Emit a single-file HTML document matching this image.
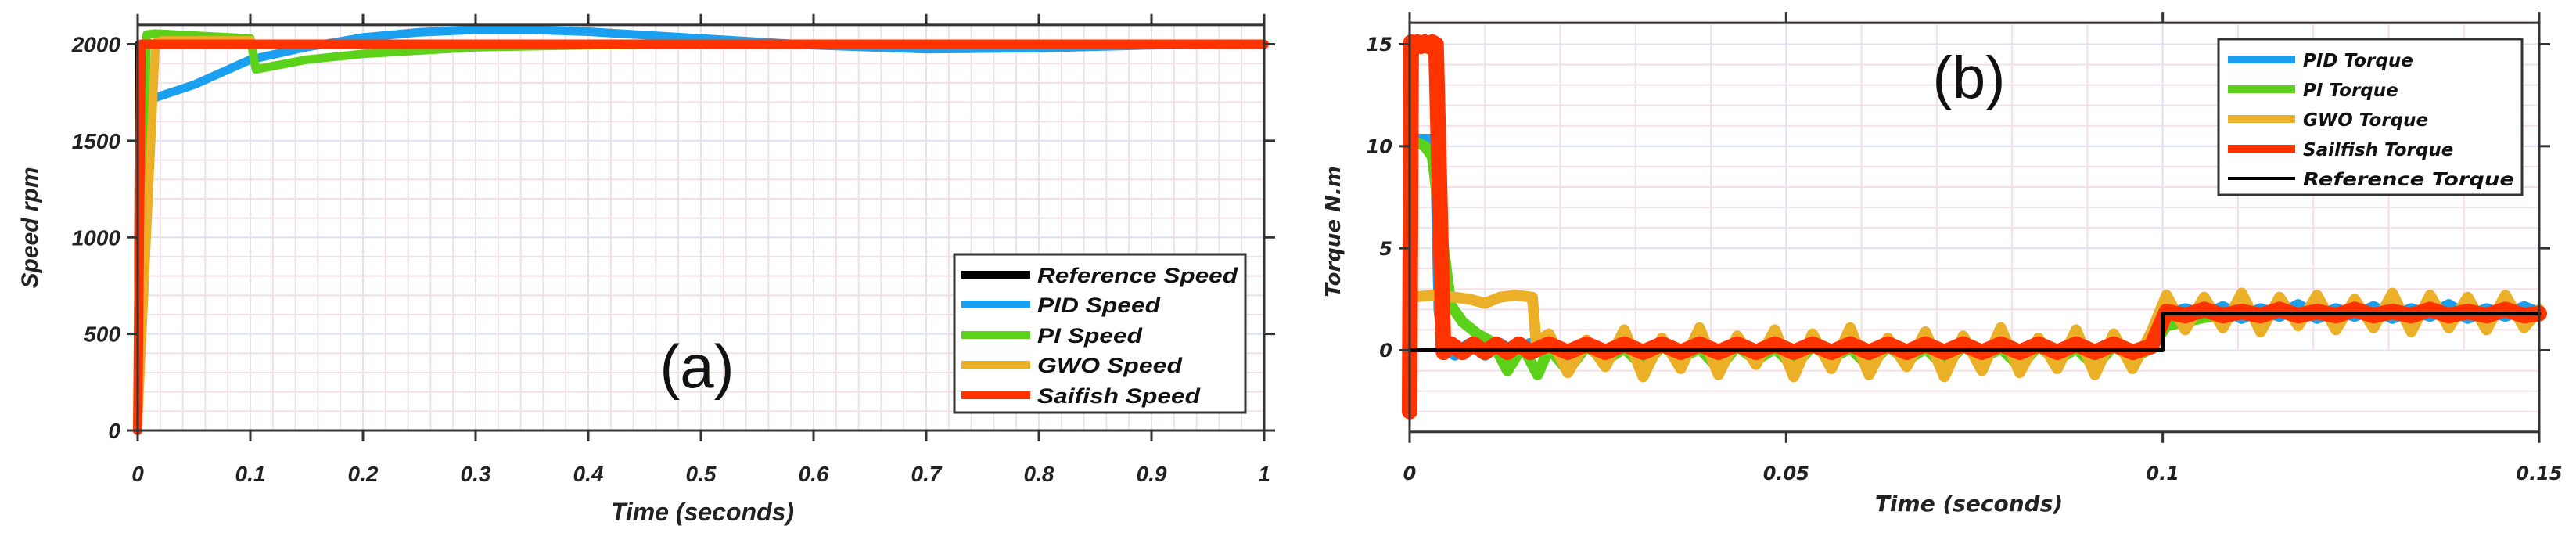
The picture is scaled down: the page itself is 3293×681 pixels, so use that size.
<!DOCTYPE html>
<html><head><meta charset="utf-8"><style>
html,body{margin:0;padding:0;background:#fff;}
svg{display:block;}
</style></head><body>
<svg id="fig" width="3293" height="681" viewBox="0 0 3293 681" xmlns="http://www.w3.org/2000/svg">
<rect width="3293" height="681" fill="#fff"/>
<g id="pa"></g>
<g id="pb"></g>
</svg>
<script>
// ---------- Panel (a) data: speed ----------
const aXTicks = [0,0.1,0.2,0.3,0.4,0.5,0.6,0.7,0.8,0.9,1];
const aXTickLabels = ["0","0.1","0.2","0.3","0.4","0.5","0.6","0.7","0.8","0.9","1"];
const aYTicks = [0,500,1000,1500,2000];
const aYTickLabels = ["0","500","1000","1500","2000"];
const refSpeedT = [0,0.001,1];
const refSpeedV = [0,2000,2000];
const pidSpeedT = [0,0.004,0.006,0.05,0.1,0.15,0.2,0.25,0.3,0.35,0.4,0.5,0.6,0.7,0.8,0.9,1];
const pidSpeedV = [0,1700,1705,1790,1920,1985,2035,2062,2075,2075,2065,2030,1995,1975,1980,1995,2000];
const piSpeedT = [0,0.008,0.015,0.05,0.1,0.105,0.15,0.2,0.3,0.4,0.5,1];
const piSpeedV = [0,2050,2055,2045,2030,1870,1920,1950,1985,1995,2000,2000];
const gwoSpeedT = [0,0.016,0.022,0.1,0.102,1];
const gwoSpeedV = [0,2010,2020,2020,2000,2000];
const sfSpeedT = [0,0.003,1];
const sfSpeedV = [0,2000,2000];

// ---------- Panel (b) data: torque ----------
const bXTicks = [0,0.05,0.1,0.15];
const bXTickLabels = ["0","0.05","0.1","0.15"];
const bYTicks = [0,5,10,15];
const bYTickLabels = ["0","5","10","15"];
const noiseT = [0.0185,0.021,0.0235,0.026,0.0285,0.031,0.0335,0.036,0.0385,0.041,0.0435,0.046,0.0485,0.051,0.0535,0.056,0.0585,0.061,0.0635,0.066,0.0685,0.071,0.0735,0.076,0.0785,0.081,0.0835,0.086,0.0885,0.091,0.0935,0.096,0.0985,0.1005,0.103,0.1055,0.108,0.1105,0.113,0.1155,0.118,0.1205,0.123,0.1255,0.128,0.1305,0.133,0.1355,0.138,0.1405,0.143,0.1455,0.148,0.15];
const pidTqHeadT = [0,0.0003,0.0035,0.004,0.0045,0.006,0.008,0.01,0.012,0.014,0.016];
const pidTqHeadV = [0,10.3,10.3,2,0.3,-0.2,0.3,-0.2,0.3,-0.2,0.3];
const pidTqNoise = [0.2,-0.2,0.2,-0.2,0.3,-0.1,0.2,-0.2,0.2,-0.2,0.3,-0.1,0.2,-0.2,0.2,-0.2,0.3,-0.1,0.2,-0.2,0.2,-0.2,0.3,-0.1,0.2,-0.2,0.2,-0.2,0.3,-0.1,0.2,-0.2,0.1,1.7,2.0,1.7,2.1,1.6,2.0,1.7,2.2,1.6,2.0,1.7,2.1,1.6,2.0,1.7,2.2,1.6,2.0,1.7,2.1,1.8];
const piTqHeadT = [0,0.0003,0.002,0.003,0.0045,0.0055,0.007,0.009,0.011,0.013,0.015,0.017];
const piTqHeadV = [0,10.3,10,9.5,5,2.2,1.4,0.8,0.4,-1.0,0.2,-1.2];
const piTqNoise = [0.1,-1.0,0.2,-0.5,0.1,-0.8,0.2,-0.4,0.1,-0.9,0.2,-0.5,0.1,-0.8,0.2,-0.4,0.1,-0.8,0.2,-0.5,0.1,-0.8,0.2,-0.4,0.1,-0.8,0.2,-0.5,0.1,-0.8,0.2,-0.4,0.1,1.2,1.4,1.6,1.7,1.9,1.6,1.9,1.6,1.9,1.6,1.9,1.6,1.9,1.6,1.9,1.6,1.9,1.6,1.9,1.6,1.8];
const gwoTqHeadT = [0,0.0003,0.003,0.006,0.008,0.01,0.012,0.014,0.0163,0.0168];
const gwoTqHeadV = [0,2.6,2.7,2.6,2.5,2.3,2.6,2.7,2.6,0.4];
const gwoTqNoise = [0.8,-1.1,0.5,-0.8,1.0,-1.3,0.6,-0.9,1.1,-1.2,0.7,-0.7,1.0,-1.3,0.8,-0.9,1.1,-1.2,0.6,-0.8,0.9,-1.3,0.7,-1.0,1.1,-1.1,0.6,-0.9,1.0,-1.2,0.8,-0.9,0.9,2.7,1.0,2.6,1.1,2.8,0.9,2.6,1.2,2.7,1.0,2.5,1.1,2.8,0.9,2.7,1.1,2.6,1.0,2.7,1.1,2.0];
const sfTqHeadT = [0,0.0002,0.0006,0.001,0.0015,0.002,0.0025,0.003,0.0035,0.0045,0.0055,0.007,0.0085,0.01,0.0115,0.013,0.0145,0.016];
const sfTqHeadV = [-3,15.1,14.9,15.1,14.9,15.1,14.9,15.1,15.0,-0.1,0.3,-0.1,0.3,-0.1,0.3,-0.1,0.3,-0.1];
const sfTqNoise = [0.3,-0.1,0.3,-0.1,0.3,-0.1,0.3,-0.1,0.3,-0.1,0.3,-0.1,0.3,-0.1,0.3,-0.1,0.3,-0.1,0.3,-0.1,0.3,-0.1,0.3,-0.1,0.3,-0.1,0.3,-0.1,0.3,-0.1,0.3,-0.1,0.2,1.9,1.7,2.0,1.7,1.9,1.7,2.0,1.7,1.9,1.7,2.0,1.7,1.9,1.7,2.0,1.7,1.9,1.7,2.0,1.7,1.8];
const refTqT = [0,0.1,0.1,0.15];
const refTqV = [0,0,1.8,1.8];

const NS = "http://www.w3.org/2000/svg";
function mk(parent, tag, attrs){const e=document.createElementNS(NS,tag);for(const k in attrs)e.setAttribute(k,attrs[k]);parent.appendChild(e);return e;}

function drawPanel(g, cfg){
  const sx = v => cfg.x0 + (v - cfg.xmin)/(cfg.xmax - cfg.xmin)*(cfg.x1 - cfg.x0);
  const sy = v => cfg.y0 - (v - cfg.ymin)/(cfg.ymax - cfg.ymin)*(cfg.y0 - cfg.y1);
  const yt = sy(cfg.ytop);
  const grid = mk(g,'g',{});
  
  
  for(let v=cfg.xmin; v<=cfg.xmax+1e-9; v+=cfg.xminor){
    const x=sx(v); mk(grid,'line',{x1:x,x2:x,y1:yt,y2:cfg.y0,stroke:'#f3e0e7','stroke-width':2});
  }
  for(let v=cfg.ybot; v<=cfg.ytop+1e-9; v+=cfg.yminor){
    const y=sy(v); mk(grid,'line',{x1:cfg.x0,x2:cfg.x1,y1:y,y2:y,stroke:'#f3e0e7','stroke-width':2});
  }
  cfg.xticks.forEach(v=>{const x=sx(v); mk(grid,'line',{x1:x,x2:x,y1:yt,y2:cfg.y0,stroke:'#dde3f4','stroke-width':2});});
  cfg.yticks.forEach(v=>{const y=sy(v); mk(grid,'line',{x1:cfg.x0,x2:cfg.x1,y1:y,y2:y,stroke:'#dde3f4','stroke-width':2});});
  const yb = sy(cfg.ybot);
  cfg.series.forEach(s=>{
    let d=''; s.t.forEach((t,i)=>{d+=(i?'L':'M')+sx(t).toFixed(1)+','+sy(s.v[i]).toFixed(1);});
    const p=mk(g,'path',{d:d,fill:'none',stroke:s.color,'stroke-width':s.w,'stroke-linejoin':'round','stroke-linecap':'round'});
    
    
  });
  const ax=mk(g,'g',{});
  
  
  mk(ax,'rect',{x:cfg.x0,y:yt,width:cfg.x1-cfg.x0,height:yb-yt,fill:'none',stroke:'#333','stroke-width':3});
  cfg.xticks.forEach((v,i)=>{
    const x=sx(v);
    mk(ax,'line',{x1:x,x2:x,y1:yb,y2:yb+14,stroke:'#333','stroke-width':3});
    mk(ax,'line',{x1:x,x2:x,y1:yt,y2:yt-14,stroke:'#333','stroke-width':3});
    const t=mk(ax,'text',{x:x,y:cfg.xlabY,'text-anchor':'middle','font-family':cfg.font,'font-weight':'bold','font-style':'italic','font-size':cfg.fs,fill:'#222'});
    t.textContent=cfg.xlabels[i];
    
    
  });
  cfg.yticks.forEach((v,i)=>{
    const y=sy(v);
    mk(ax,'line',{x1:cfg.x0,x2:cfg.x0-14,y1:y,y2:y,stroke:'#333','stroke-width':3});
    mk(ax,'line',{x1:cfg.x1,x2:cfg.x1+14,y1:y,y2:y,stroke:'#333','stroke-width':3});
    const t=mk(ax,'text',{x:cfg.x0-22,y:y+cfg.fs*0.36,'text-anchor':'end','font-family':cfg.font,'font-weight':'bold','font-style':'italic','font-size':cfg.fs,fill:'#222'});
    t.textContent=cfg.ylabels[i];
    
    
  });
}

drawPanel(document.getElementById('pa'),{
  x0:176,x1:1616,xmin:0,xmax:1,y0:550,y1:56.5,ymin:0,ymax:2000,ytop:2100,ybot:0,
  xminor:0.02,yminor:100,xticks:aXTicks,xlabels:aXTickLabels,yticks:aYTicks,ylabels:aYTickLabels,
  xlabY:615,fs:28,font:'"Liberation Sans", Arial, sans-serif',
  series:[
    {name:'reference-speed-line',t:refSpeedT,v:refSpeedV,color:'#000',w:10},
    {name:'pid-speed-line',t:pidSpeedT,v:pidSpeedV,color:'#1aa0f0',w:11},
    {name:'pi-speed-line',t:piSpeedT,v:piSpeedV,color:'#5cd11a',w:11},
    {name:'gwo-speed-line',t:gwoSpeedT,v:gwoSpeedV,color:'#ebb027',w:11},
    {name:'sailfish-speed-line',t:sfSpeedT,v:sfSpeedV,color:'#ff3300',w:12}
  ]
});
drawPanel(document.getElementById('pb'),{
  x0:1802,x1:3246,xmin:0,xmax:0.15,y0:447.5,y1:56.5,ymin:0,ymax:15,ytop:16.05,ybot:-4,
  xminor:0.01,yminor:1,xticks:bXTicks,xlabels:bXTickLabels,yticks:bYTicks,ylabels:bYTickLabels,
  xlabY:613,fs:24,font:'"DejaVu Sans", Verdana, sans-serif',
  series:[
    {name:'pid-torque-line',t:pidTqHeadT.concat(noiseT),v:pidTqHeadV.concat(pidTqNoise),color:'#1aa0f0',w:16},
    {name:'pi-torque-line',t:piTqHeadT.concat(noiseT),v:piTqHeadV.concat(piTqNoise),color:'#5cd11a',w:14},
    {name:'gwo-torque-line',t:gwoTqHeadT.concat(noiseT),v:gwoTqHeadV.concat(gwoTqNoise),color:'#ebb027',w:14},
    {name:'sailfish-torque-line',t:sfTqHeadT.concat(noiseT),v:sfTqHeadV.concat(sfTqNoise),color:'#ff3300',w:20},
    {name:'reference-torque-line',t:refTqT,v:refTqV,color:'#000',w:5}
  ]
});
</script>
<svg width="3293" height="681" viewBox="0 0 3293 681" style="position:absolute;left:0;top:0" xmlns="http://www.w3.org/2000/svg">
  <text transform="translate(48,291) rotate(-90)" text-anchor="middle" font-family="Liberation Sans, sans-serif" font-weight="bold" font-style="italic" font-size="30" fill="#222">Speed rpm</text>
  <text x="898" y="665" text-anchor="middle" font-family="Liberation Sans, sans-serif" font-weight="bold" font-style="italic" font-size="32" fill="#222">Time (seconds)</text>
  <text x="891" y="495" text-anchor="middle" font-family="Liberation Sans, sans-serif" font-size="78" fill="#111">(a)</text>
  <g>
    <rect x="1220" y="325" width="372" height="202" fill="#fff" stroke="#333" stroke-width="3"/>
    <g font-family="Liberation Sans, sans-serif" font-weight="bold" font-style="italic" font-size="27" fill="#111">
      <line x1="1229" x2="1317" y1="351" y2="351" stroke="#000" stroke-width="10"/>
      <text x="1326" y="361" textLength="256" lengthAdjust="spacingAndGlyphs">Reference Speed</text>
      <line x1="1229" x2="1317" y1="389" y2="389" stroke="#1aa0f0" stroke-width="10"/>
      <text x="1326" y="399" textLength="157" lengthAdjust="spacingAndGlyphs">PID Speed</text>
      <line x1="1229" x2="1317" y1="428" y2="428" stroke="#5cd11a" stroke-width="10"/>
      <text x="1326" y="438" textLength="134" lengthAdjust="spacingAndGlyphs">PI Speed</text>
      <line x1="1229" x2="1317" y1="466" y2="466" stroke="#ebb027" stroke-width="10"/>
      <text x="1326" y="476" textLength="185" lengthAdjust="spacingAndGlyphs">GWO Speed</text>
      <line x1="1229" x2="1317" y1="505" y2="505" stroke="#ff3300" stroke-width="10"/>
      <text x="1326" y="515" textLength="208" lengthAdjust="spacingAndGlyphs">Saifish Speed</text>
    </g>
  </g>
  <text transform="translate(1713,296) rotate(-90)" text-anchor="middle" font-family="DejaVu Sans, sans-serif" font-weight="bold" font-style="italic" font-size="26" fill="#222">Torque N.m</text>
  <text x="2517" y="653" text-anchor="middle" font-family="DejaVu Sans, sans-serif" font-weight="bold" font-style="italic" font-size="28" fill="#222">Time (seconds)</text>
  <text x="2517" y="125" text-anchor="middle" font-family="Liberation Sans, sans-serif" font-size="76" fill="#111">(b)</text>
  <g>
    <rect x="2836" y="50" width="388" height="199" fill="#fff" stroke="#333" stroke-width="3"/>
    <g font-family="DejaVu Sans, sans-serif" font-weight="bold" font-style="italic" font-size="23" fill="#111">
      <line x1="2848" x2="2934" y1="76" y2="76" stroke="#1aa0f0" stroke-width="10"/>
      <text x="2944" y="85">PID Torque</text>
      <line x1="2848" x2="2934" y1="114" y2="114" stroke="#5cd11a" stroke-width="10"/>
      <text x="2944" y="123">PI Torque</text>
      <line x1="2848" x2="2934" y1="152" y2="152" stroke="#ebb027" stroke-width="10"/>
      <text x="2944" y="161">GWO Torque</text>
      <line x1="2848" x2="2934" y1="190" y2="190" stroke="#ff3300" stroke-width="10"/>
      <text x="2944" y="199">Sailfish Torque</text>
      <line x1="2848" x2="2934" y1="228" y2="228" stroke="#000" stroke-width="4"/>
      <text x="2944" y="237" textLength="270" lengthAdjust="spacingAndGlyphs">Reference Torque</text>
    </g>
  </g>
</svg>
</body></html>
